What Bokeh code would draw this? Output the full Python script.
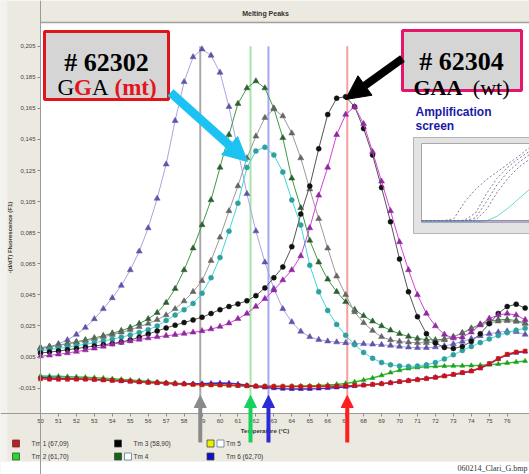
from bokeh.plotting import figure
from bokeh.models import (Range1d, FixedTicker, CustomJSTickFormatter, BoxAnnotation,
                          Label, Arrow, NormalHead)
from bokeh.embed import file_html
from bokeh.resources import INLINE
from bokeh.core.properties import value

# ---------------- data ----------------
temperature = [50.0, 50.5, 51.0, 51.5, 52.0, 52.5, 53.0, 53.5, 54.0, 54.5,
               55.0, 55.5, 56.0, 56.5, 57.0, 57.5, 58.0, 58.5, 59.0, 59.5,
               60.0, 60.5, 61.0, 61.5, 62.0, 62.5, 63.0, 63.5, 64.0, 64.5,
               65.0, 65.5, 66.0, 66.5, 67.0, 67.5, 68.0, 68.5, 69.0, 69.5,
               70.0, 70.5, 71.0, 71.5, 72.0, 72.5, 73.0, 73.5, 74.0, 74.5,
               75.0, 75.5, 76.0, 76.5, 77.0]

slate_peak = [0.0100, 0.0115, 0.0135, 0.0160, 0.0195, 0.0240, 0.0295, 0.0360, 0.0430, 0.0510,
              0.0610, 0.0730, 0.0880, 0.1070, 0.1290, 0.1570, 0.1820, 0.1980, 0.2030, 0.1990,
              0.1880, 0.1660, 0.1380, 0.1100, 0.0860, 0.0660, 0.0490, 0.0360, 0.0275, 0.0215,
              0.0180, 0.0162, 0.0152, 0.0146, 0.0141, 0.0138, 0.0135, 0.0132, 0.0129, 0.0124,
              0.0118, 0.0113, 0.0110, 0.0110, 0.0114, 0.0121, 0.0134, 0.0150, 0.0168, 0.0186,
              0.0200, 0.0210, 0.0216, 0.0212, 0.0195]
darkgreen_peak = [0.0110, 0.0118, 0.0127, 0.0137, 0.0148, 0.0160, 0.0173, 0.0187, 0.0203, 0.0220,
                  0.0240, 0.0265, 0.0295, 0.0335, 0.0400, 0.0490, 0.0610, 0.0750, 0.0900, 0.1060,
                  0.1270, 0.1480, 0.1680, 0.1780, 0.1825, 0.1780, 0.1650, 0.1460, 0.1200, 0.1010,
                  0.0800, 0.0660, 0.0550, 0.0470, 0.0405, 0.0355, 0.0315, 0.0280, 0.0250, 0.0222,
                  0.0200, 0.0182, 0.0170, 0.0162, 0.0160, 0.0165, 0.0180, 0.0205, 0.0235, 0.0262,
                  0.0280, 0.0290, 0.0292, 0.0285, 0.0268]
gray_peak = [0.0110, 0.0117, 0.0125, 0.0134, 0.0144, 0.0155, 0.0167, 0.0180, 0.0194, 0.0209,
             0.0225, 0.0245, 0.0265, 0.0290, 0.0320, 0.0360, 0.0410, 0.0470, 0.0540, 0.0670,
             0.0820, 0.0990, 0.1150, 0.1330, 0.1470, 0.1590, 0.1645, 0.1600, 0.1490, 0.1330,
             0.1130, 0.0940, 0.0750, 0.0570, 0.0450, 0.0340, 0.0270, 0.0220, 0.0180, 0.0160,
             0.0150, 0.0145, 0.0142, 0.0142, 0.0148, 0.0160, 0.0180, 0.0205, 0.0230, 0.0255,
             0.0270, 0.0280, 0.0283, 0.0278, 0.0265]
teal_peak = [0.0090, 0.0098, 0.0106, 0.0114, 0.0123, 0.0132, 0.0142, 0.0153, 0.0165, 0.0178,
             0.0192, 0.0208, 0.0226, 0.0250, 0.0285, 0.0320, 0.0355, 0.0395, 0.0460, 0.0560,
             0.0690, 0.0860, 0.1040, 0.1270, 0.1375, 0.1400, 0.1350, 0.1240, 0.1060, 0.0900,
             0.0640, 0.0470, 0.0350, 0.0260, 0.0190, 0.0130, 0.0080, 0.0042, 0.0015, 0.0000,
             -0.0008, -0.0010, -0.0008, 0.0000, 0.0015, 0.0038, 0.0065, 0.0092, 0.0118, 0.0143,
             0.0167, 0.0188, 0.0207, 0.0223, 0.0235]
black_peak = [0.0076, 0.0082, 0.0089, 0.0097, 0.0105, 0.0113, 0.0121, 0.0129, 0.0137, 0.0147,
              0.0160, 0.0178, 0.0198, 0.0218, 0.0237, 0.0255, 0.0272, 0.0289, 0.0306, 0.0330,
              0.0355, 0.0375, 0.0392, 0.0412, 0.0445, 0.0495, 0.0560, 0.0630, 0.0760, 0.0970,
              0.1150, 0.1390, 0.1610, 0.1715, 0.1725, 0.1660, 0.1520, 0.1350, 0.1140, 0.0920,
              0.0680, 0.0470, 0.0310, 0.0200, 0.0140, 0.0112, 0.0105, 0.0118, 0.0150, 0.0200,
              0.0265, 0.0330, 0.0375, 0.0390, 0.0365]
magenta_peak = [0.0056, 0.0061, 0.0068, 0.0076, 0.0085, 0.0095, 0.0106, 0.0118, 0.0132, 0.0143,
                0.0153, 0.0163, 0.0172, 0.0180, 0.0187, 0.0194, 0.0201, 0.0209, 0.0218, 0.0230,
                0.0246, 0.0268, 0.0296, 0.0330, 0.0375, 0.0425, 0.0480, 0.0545, 0.0610, 0.0700,
                0.0880, 0.1090, 0.1270, 0.1480, 0.1610, 0.1660, 0.1550, 0.1370, 0.1180, 0.0990,
                0.0790, 0.0610, 0.0450, 0.0330, 0.0250, 0.0195, 0.0172, 0.0178, 0.0210, 0.0258,
                0.0298, 0.0320, 0.0330, 0.0320, 0.0290]
red_base = [-0.0090, -0.0092, -0.0093, -0.0093, -0.0092, -0.0092, -0.0094, -0.0097, -0.0100, -0.0103,
            -0.0106, -0.0110, -0.0113, -0.0116, -0.0119, -0.0122, -0.0124, -0.0126, -0.0128, -0.0129,
            -0.0130, -0.0131, -0.0133, -0.0135, -0.0137, -0.0138, -0.0139, -0.0140, -0.0140, -0.0140,
            -0.0140, -0.0139, -0.0138, -0.0137, -0.0135, -0.0133, -0.0130, -0.0126, -0.0122, -0.0116,
            -0.0108, -0.0102, -0.0096, -0.0089, -0.0081, -0.0072, -0.0062, -0.0050, -0.0040, -0.0020,
            0.0008, 0.0040, 0.0068, 0.0082, 0.0088]
green_base = [-0.0072, -0.0073, -0.0074, -0.0076, -0.0078, -0.0080, -0.0083, -0.0086, -0.0090, -0.0094,
              -0.0098, -0.0102, -0.0106, -0.0110, -0.0114, -0.0118, -0.0121, -0.0124, -0.0127, -0.0129,
              -0.0131, -0.0133, -0.0135, -0.0136, -0.0137, -0.0138, -0.0138, -0.0138, -0.0137, -0.0136,
              -0.0135, -0.0133, -0.0130, -0.0126, -0.0120, -0.0110, -0.0098, -0.0085, -0.0068, -0.0050,
              -0.0035, -0.0024, -0.0017, -0.0012, -0.0010, -0.0008, -0.0007, -0.0006, -0.0005, -0.0003,
              0.0000, 0.0005, 0.0012, 0.0018, 0.0024]
blue_base = [-0.0082, -0.0084, -0.0086, -0.0088, -0.0090, -0.0092, -0.0095, -0.0098, -0.0101, -0.0104,
             -0.0107, -0.0110, -0.0113, -0.0116, -0.0119, -0.0121, -0.0122, -0.0122, -0.0121, -0.0119,
             -0.0117, -0.0118, -0.0124, -0.0132, -0.0140, -0.0146, -0.0151, -0.0154, -0.0156, -0.0156,
             -0.0155, -0.0153, -0.0150, -0.0146, -0.0142, -0.0137, -0.0132, -0.0127, -0.0121, -0.0115,
             -0.0109, -0.0102, -0.0095, -0.0088, -0.0080, -0.0072, -0.0063, -0.0052, -0.0040, -0.0022,
             0.0005, 0.0038, 0.0064, 0.0078, 0.0085]

# melting temperatures (vertical markers + arrows)
tm_values = [58.90, 61.70, 62.70, 67.09]
tm_line_colors = ["#A9A9A9", "#A8E4A8", "#A8A8EE", "#F2A0A0"]
tm_arrow_colors = ["#8A8A8A", "#14D25A", "#2B2BD6", "#FF1E1E"]

# legend
legend_labels = ["Tm 1 (67,09)", "Tm 2 (61,70)", "Tm 3 (58,90)", "Tm 4", "Tm 5", "Tm 6 (62,70)"]
legend_colors = ["#D01818", "#22DD22", "#000000", "#116611", "#EEEE00", "#1010CC"]
legend_checked = [True, True, True, False, False, True]

x_ticks = [50, 51, 52, 53, 54, 55, 56, 57, 58, 59, 60, 61, 62, 63, 64, 65, 66, 67,
           68, 69, 70, 71, 72, 73, 74, 75, 76]
y_ticks = [-0.015, 0.005, 0.025, 0.045, 0.065, 0.085, 0.105, 0.125, 0.145, 0.165, 0.185, 0.205]

# small amplification-screen inset (fraction of inset width / height)
amp_frac_x = [0.0, 0.1, 0.2, 0.3, 0.4, 0.5, 0.6, 0.7, 0.8, 0.9, 1.0]
amp_curves = [
    [0.02, 0.02, 0.02, 0.05, 0.26, 0.42, 0.54, 0.64, 0.74, 0.84, 0.95],
    [0.02, 0.02, 0.02, 0.02, 0.03, 0.12, 0.36, 0.56, 0.70, 0.81, 0.90],
    [0.02, 0.02, 0.02, 0.02, 0.02, 0.06, 0.26, 0.48, 0.64, 0.76, 0.86],
    [0.02, 0.02, 0.02, 0.02, 0.02, 0.03, 0.16, 0.38, 0.56, 0.70, 0.80],
]
amp_cyan = [0.01, 0.01, 0.01, 0.01, 0.01, 0.01, 0.02, 0.08, 0.18, 0.30, 0.42]

# ---------------- geometry ----------------
BEIGE = "#ECE9E1"
W, H = 529, 474
FL, FR, FT, FB = 40, 529, 22, 413          # plot box in page pixels
X0 = 50.0
X1 = 50.0 + (FR - FL) / 17.95
Y_TOP, Y_BOT = 0.2202, -0.0313


def tx(px):
    return X0 + (px - FL) * (X1 - X0) / (FR - FL)


def ty(py):
    return Y_TOP - (py - FT) * (Y_TOP - Y_BOT) / (FB - FT)


p = figure(width=W, height=H, x_range=Range1d(tx(0), tx(W)), y_range=Range1d(ty(H), ty(0)),
           output_backend="svg", toolbar_location=None, min_border=0,
           background_fill_color=BEIGE, border_fill_color=BEIGE, outline_line_color=None)
p.xgrid.visible = False
p.ygrid.visible = False

# panel pieces
p.quad(left=[tx(0)], right=[tx(7)], top=[ty(0)], bottom=[ty(461)], fill_color="#F4F2EE",
       line_color=None)
p.quad(left=[tx(0)], right=[tx(W)], top=[ty(461)], bottom=[ty(H)], fill_color="white",
       line_color=None)
p.quad(left=[X0], right=[X1], top=[Y_TOP], bottom=[Y_BOT], fill_color="white",
       line_color=None)
p.line([X0, X1], [Y_TOP, Y_TOP], line_color="#A0A0A0", line_width=1.5)

p.add_layout(Label(x=tx(265), y=ty(13), text="Melting Peaks", text_font="Liberation Sans",
                   text_font_style="bold", text_font_size="7px", text_color="#333333",
                   text_align="center", text_baseline="middle"))

# axes pinned to the plot box
p.xaxis.fixed_location = Y_BOT
p.yaxis.fixed_location = X0
for ax in (p.xaxis[0], p.yaxis[0]):
    ax.major_tick_out = 3
    ax.major_tick_in = 0
    ax.minor_tick_out = 0
    ax.minor_tick_in = 0
    ax.axis_line_color = "#9A9A9A"
    ax.major_tick_line_color = "#8A8A8A"
    ax.major_label_text_font = "Liberation Sans"
    ax.major_label_text_font_size = "6px"
    ax.major_label_text_color = "#444444"
    ax.major_label_standoff = 2
    ax.axis_label_text_font = "Liberation Sans"
    ax.axis_label_text_font_size = "6px"
    ax.axis_label_text_font_style = "bold"
    ax.axis_label_text_color = "#333333"
    ax.axis_label_standoff = 2

p.xaxis.ticker = FixedTicker(ticks=x_ticks)
p.xaxis.axis_label = "Temperature (°C)"
p.yaxis.ticker = FixedTicker(ticks=y_ticks)
p.yaxis.formatter = CustomJSTickFormatter(code="return tick.toFixed(3).replace('.', ',');")
p.yaxis.axis_label = "-(d/dT) Fluorescence (F1)"

# Tm vertical lines
for tm, c in zip(tm_values, tm_line_colors):
    p.segment(x0=[tm], y0=[Y_BOT], x1=[tm], y1=[y_ticks[-1]], line_color=c, line_width=2)

# baseline (negative) curves
for vals, mc, lc, mk, sz in [
    (green_base, "#1E9E1E", "#30C030", "triangle", 5),
    (blue_base, "#2020B0", "#3030E0", "triangle", 5),
    (red_base, "#C81414", "#E02020", "square", 4),
]:
    p.line(temperature, vals, line_color=lc, line_width=1.5)
    p.scatter(temperature, vals, marker=mk, size=sz, fill_color=mc, line_color=mc, line_width=0.5)

# melting peak curves
for vals, mc, lc, mk, sz in [
    (slate_peak, "#5F54A8", "#ABA3E0", "triangle", 6),
    (darkgreen_peak, "#2E5E32", "#3E9A45", "triangle", 6),
    (gray_peak, "#656565", "#9A9A9A", "triangle", 6),
    (teal_peak, "#2FA09E", "#3FD8D8", "circle", 5),
    (black_peak, "#111111", "#555555", "circle", 5),
    (magenta_peak, "#8E2A9E", "#D63FD6", "triangle", 6),
]:
    p.line(temperature, vals, line_color=lc, line_width=1)
    p.scatter(temperature, vals, marker=mk, size=sz, fill_color=mc, line_color=mc, line_width=0.5)

# amplification inset
p.quad(left=[tx(413)], right=[tx(545)], top=[ty(137)], bottom=[ty(233)],
       fill_color="#E3E3E3", line_color="#B5B5B5", line_width=1)
p.quad(left=[tx(421)], right=[tx(545)], top=[ty(143)], bottom=[ty(222)],
       fill_color="white", line_color="#A8A8A8", line_width=1)
ix = [tx(421 + f * 108) for f in amp_frac_x]
for curve in amp_curves:
    p.line(ix, [ty(222 - g * 79) for g in curve], line_color="#8878A0", line_width=1, line_dash="2 2")
p.line(ix, [ty(222 - g * 79) for g in amp_cyan], line_color="#6FD6D0", line_width=1)
p.line([ix[0], ix[-1]], [ty(222 - 0.02 * 79)] * 2, line_color="#7060A0", line_width=1.2)

p.add_layout(Label(x=tx(415), y=ty(118), text="Amplification", text_font="Liberation Sans",
                   text_font_style="bold", text_font_size="12px", text_color="#1A1AA6"))
p.add_layout(Label(x=tx(415), y=ty(132), text="screen", text_font="Liberation Sans",
                   text_font_style="bold", text_font_size="12px", text_color="#1A1AA6"))

# legend
col_px = [15.5, 117.5, 210.0]
row_py = [443, 456]
for i, (lab, col, chk) in enumerate(zip(legend_labels, legend_colors, legend_checked)):
    cx = col_px[i // 2]
    cy = ty(row_py[i % 2])
    p.scatter([tx(cx)], [cy], marker="square", size=7, fill_color=col, line_color="#444444",
              line_width=0.8)
    p.scatter([tx(cx + 10)], [cy], marker="square_check" if chk else "square", size=7,
              fill_color="white", line_color="#5C7C8C", line_width=0.8)
    p.text([tx(cx + 15.5)], [cy], text=[lab], text_font=value("Liberation Sans"),
           text_font_size="6.5px", text_color="#333333", text_baseline="middle")

p.text([tx(527)], [ty(468)], text=["060214_Clari_G.bmp"], text_font=value("Liberation Serif"),
       text_font_size="8px", text_color="#333333", text_baseline="middle", text_align="right")

# sample boxes
p.add_layout(BoxAnnotation(left=tx(44), right=tx(168), top=ty(31), bottom=ty(99),
                           fill_color="#D5D5D5", fill_alpha=1, line_color="#E0141B",
                           line_width=3, line_alpha=1))
p.add_layout(BoxAnnotation(left=tx(402), right=tx(521), top=ty(30), bottom=ty(90),
                           fill_color="#D5D5D5", fill_alpha=1, line_color="#E5156B",
                           line_width=3, line_alpha=1))


def serif(x, y, text, size, bold=False, color="black", align="left"):
    p.add_layout(Label(x=tx(x), y=ty(y), text=text, text_font="Liberation Serif",
                       text_font_size=size, text_font_style="bold" if bold else "normal",
                       text_color=color, text_align=align, text_baseline="alphabetic"))


serif(106, 62, "# 62302", "26px", bold=True, align="center")
serif(57, 87, "G", "23px")
serif(73.6, 87, "G", "23px", bold=True, color="#E3161B")
serif(91.5, 87, "A", "23px")
serif(114, 87, "(mt)", "23px", bold=True, color="#E3161B")
serif(461, 61, "# 62304", "26px", bold=True, align="center")
serif(413, 87, "GAA", "22px", bold=True)
serif(509, 87, "(wt)", "22px", align="right")

# pointer arrows
p.add_layout(Arrow(x_start=tx(170), y_start=ty(92), x_end=tx(247), y_end=ty(161),
                   line_color="#1CC3F2", line_width=9,
                   end=NormalHead(size=24, fill_color="#1CC3F2", line_color="#1CC3F2")))
p.add_layout(Arrow(x_start=tx(402), y_start=ty(58), x_end=tx(345), y_end=ty(99),
                   line_color="black", line_width=8,
                   end=NormalHead(size=24, fill_color="black", line_color="black")))

# Tm arrows
for tm, c in zip(tm_values, tm_arrow_colors):
    p.add_layout(Arrow(x_start=tm, y_start=ty(442), x_end=tm, y_end=ty(395),
                       line_color=c, line_width=4,
                       end=NormalHead(size=12, fill_color=c, line_color=c)))

open("out.html", "w").write(file_html(p, INLINE))
